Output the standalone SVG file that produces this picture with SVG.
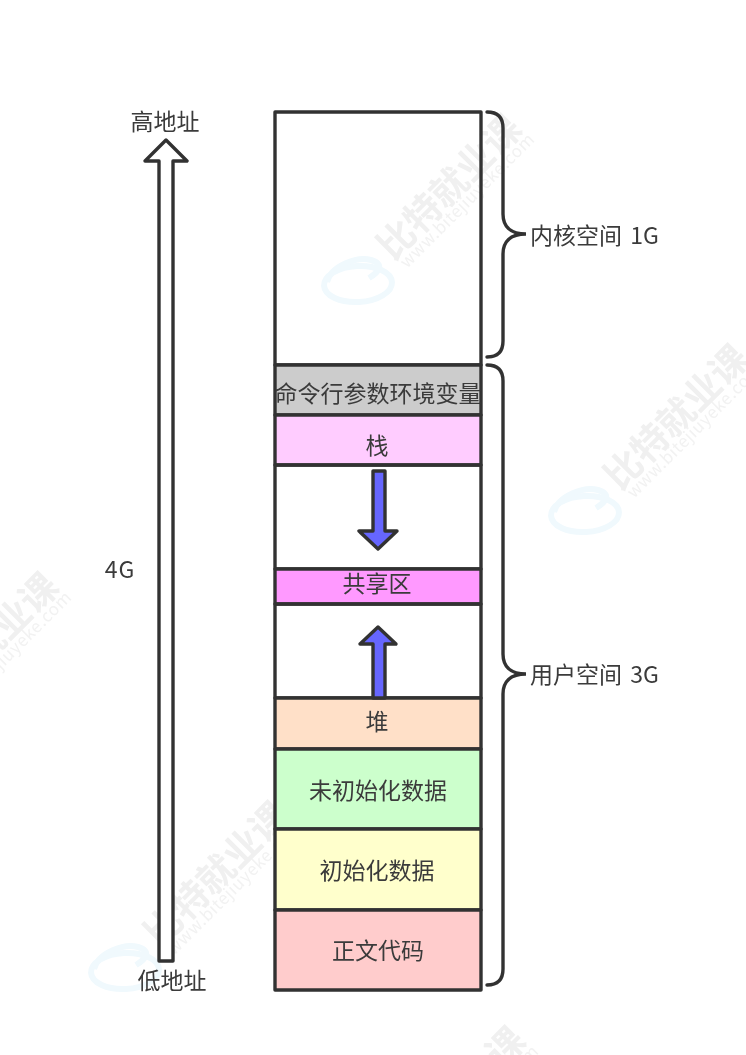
<svg xmlns="http://www.w3.org/2000/svg" width="746" height="1055" viewBox="0 0 746 1055">
<style>
text{font-family:"Noto Sans CJK SC","Liberation Sans",sans-serif}
.t{font-size:23px;fill:#3a3a3a;text-anchor:middle;dominant-baseline:central}
.l{text-anchor:start}
.b{stroke:#333;stroke-width:3.4;stroke-linejoin:round}
.c{fill:none;stroke:#333;stroke-width:3.4;stroke-linecap:round}
.w1{font-size:37px;font-weight:700;fill:#f0f0f0}
.w2{font-size:17px;fill:#f2f2f2;letter-spacing:.6px}
.r{fill:none;stroke:#f0f9fd;stroke-width:6}
</style>
<defs>
<filter id="soft" x="0" y="0" width="100%" height="100%"><feGaussianBlur stdDeviation="0.45"/></filter>
<g id="wm">
<text class="w1" transform="rotate(-45)" x="0" y="0">比特就业课</text>
<text class="w2" transform="translate(14,7) rotate(-45)" x="0" y="0">www.bitejiuyeke.com</text>
<g class="r"><ellipse cx="-35" cy="22" rx="34" ry="18" transform="rotate(-3 -35 22)"/><path d="M-66 20C-62 4-36-6-22-2S-14 10-24 16"/></g>
</g>
</defs>
<rect width="746" height="1055" fill="#fff"/>
<g filter="url(#soft)">
<g id="watermarks">
<use href="#wm" x="393" y="262"/>
<use href="#wm" x="620" y="492"/>
<use href="#wm" x="160" y="949"/>
<use href="#wm" x="-70" y="720"/>
<use href="#wm" x="397" y="1174"/>
</g>
<g id="kernel"><rect class="b" x="275" y="112" width="206" height="253" fill="none"/></g>
<g id="args"><rect class="b" x="275" y="365" width="206" height="50" fill="#ccc"/><text class="t" x="378" y="392">命令行参数环境变量</text></g>
<g id="stack"><rect class="b" x="275" y="415" width="206" height="50" fill="#fcf"/><text class="t" x="377" y="444">栈</text></g>
<g id="gap1"><rect class="b" x="275" y="465" width="206" height="104" fill="none"/></g>
<g id="shared"><rect class="b" x="275" y="569" width="206" height="35" fill="#f9f"/><text class="t" x="377" y="582">共享区</text></g>
<g id="gap2"><rect class="b" x="275" y="604" width="206" height="94" fill="none"/></g>
<g id="heap"><rect class="b" x="275" y="698" width="206" height="51" fill="#ffe0c8"/><text class="t" x="377" y="720">堆</text></g>
<g id="bss"><rect class="b" x="275" y="749" width="206" height="80" fill="#cfc"/><text class="t" x="378" y="789">未初始化数据</text></g>
<g id="data"><rect class="b" x="275" y="829" width="206" height="81" fill="#ffc"/><text class="t" x="377" y="869">初始化数据</text></g>
<g id="code"><rect class="b" x="275" y="910" width="206" height="80" fill="#fcc"/><text class="t" x="378" y="949">正文代码</text></g>
<g id="label-high"><text class="t" x="165" y="120">高地址</text></g>
<g id="label-low"><text class="t" x="172" y="979">低地址</text></g>
<g id="label-4g"><text class="t" x="120" y="568" letter-spacing="1">4G</text></g>
<g id="label-kernel"><text class="t l" x="530" y="234" word-spacing="3">内核空间 1G</text></g>
<g id="label-user"><text class="t l" x="530" y="673" word-spacing="3">用户空间 3G</text></g>
<g id="connectors">
<path class="b" fill="#fff" d="M159 961V161H145L166 140L187 161H173V961Z"/>
<path class="b" fill="#66f" d="M373 471H385V531H397L378 549L359 531H373Z"/>
<path class="b" fill="#66f" d="M373 698V644H360L378 627L396 644H385V698Z"/>
<path class="c" d="M487 112C498 112 503 118 503 128V214C503 226 510 234 526 234C510 234 503 242 503 254V341C503 351 498 357 487 357"/>
<path class="c" d="M487 365C498 365 503 371 503 381V654C503 666 510 674 526 674C510 674 503 682 503 694V969C503 979 498 985 487 985"/>
</g>
</g>
</svg>
